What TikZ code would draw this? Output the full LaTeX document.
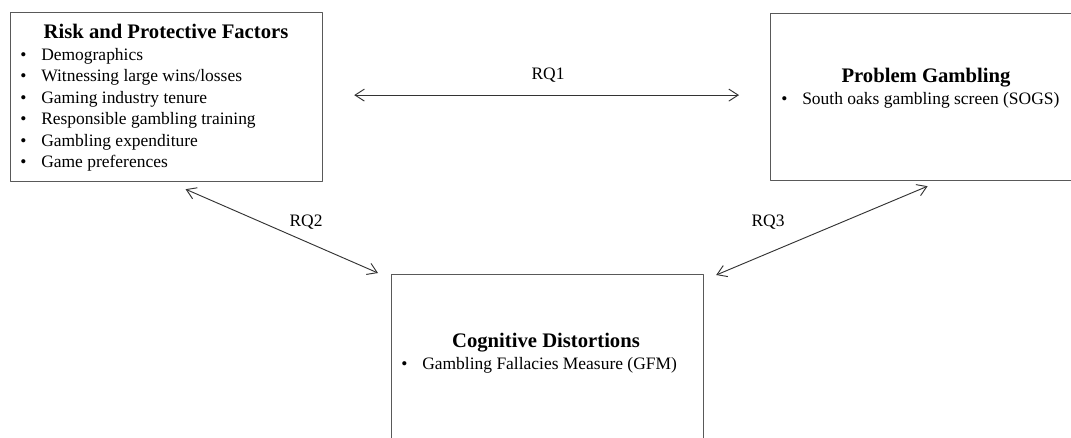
\documentclass[tikz,border=0pt]{standalone}
\usepackage{fontspec}
\setmainfont{Liberation Serif}
\usetikzlibrary{arrows.meta}

\tikzset{
  box/.style={draw=black!65, line width=0.9pt, anchor=north west, inner sep=0pt},
  ttl/.style={anchor=base, inner sep=0pt, font=\fontsize{15.5}{18}\selectfont\bfseries},
  itm/.style={anchor=base west, inner sep=0pt, font=\fontsize{13.1}{16}\selectfont},
  rq/.style={anchor=base, inner sep=0pt, font=\fontsize{13.1}{16}\selectfont},
  link/.style={{Straight Barb[length=7pt,width=9pt]}-{Straight Barb[length=7pt,width=9pt]}, line width=0.7pt, color=black!80}
}
\newcommand{\bul}{\makebox[15.75pt][l]{\textbullet}}

\begin{document}
\begin{tikzpicture}[x=0.75pt, y=-0.75pt, line cap=round, line join=round]
    \clip (0,0) rectangle (1071,437);
    \fill[white] (0,0) rectangle (1071,437);

    % boxes
    \node[box, minimum width=234pt, minimum height=126.75pt] (risk) at (10,12) {};
    \node[box, minimum width=232.5pt, minimum height=125.25pt] (prob) at (770,13) {};
    \node[box, minimum width=234pt, minimum height=150pt] (cog) at (391,274) {};

    % risk and protective factors
    \node[ttl] (risktitle) at (166,38) {Risk and Protective Factors};
    \foreach \t [count=\i] in {Demographics, Witnessing large wins/losses, Gaming industry tenure,
        Responsible gambling training, Gambling expenditure, Game preferences}
      \node[itm] (rf\i) at (20,{38.5+21.5*\i}) {\bul\t};

    % problem gambling
    \node[ttl] (probtitle) at (926,82) {Problem Gambling};
    \node[itm] (pg1) at (781,104) {\bul South oaks gambling screen (SOGS)};

    % cognitive distortions
    \node[ttl] (cogtitle) at (546,347) {Cognitive Distortions};
    \node[itm] (cd1) at (401,369) {\bul Gambling Fallacies Measure (GFM)};

    % research questions
    \draw[link] ([shift={(31,-2)}]risk.east) -- ([shift={(-31,-2)}]prob.west);
    \draw[link] ([shift={(19,7)}]risk.south) -- ([shift={(-13,-1)}]cog.north west);
    \draw[link] ([shift={(2,5)}]prob.south) -- ([shift={(12,1)}]cog.north east);
    \node[rq] (rq1) at (548,79) {RQ1};
    \node[rq] (rq2) at (306,226) {RQ2};
    \node[rq] (rq3) at (768,226) {RQ3};
\end{tikzpicture}
\end{document}
